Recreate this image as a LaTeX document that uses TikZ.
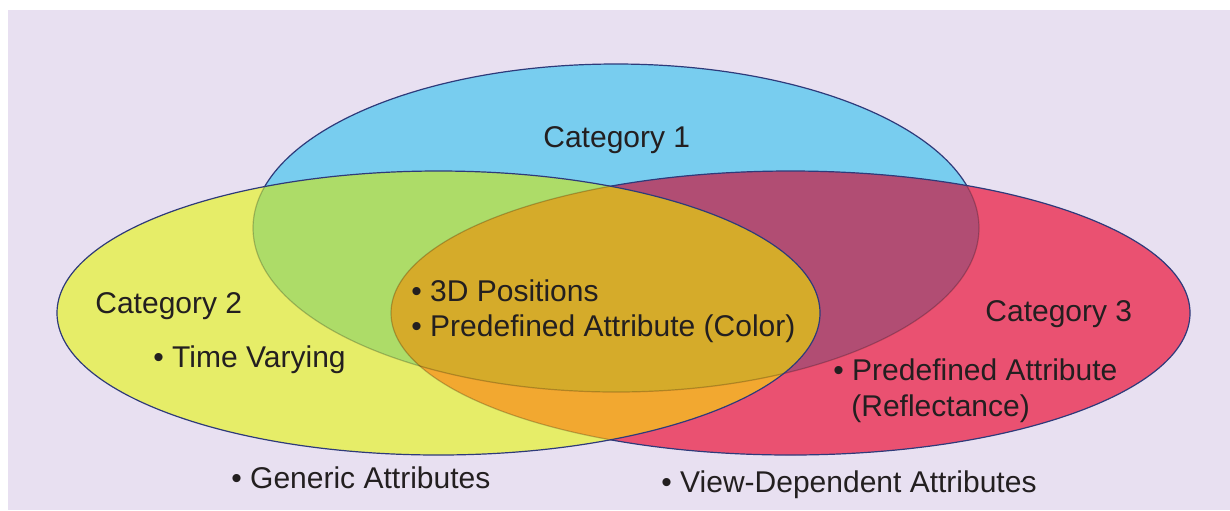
\documentclass[tikz,border=0pt]{standalone}
\usepackage{fontspec}
\setmainfont{Liberation Sans}
\definecolor{bg}{HTML}{E8E0F1}
\definecolor{cblue}{HTML}{78CDEF}
\definecolor{cyel}{HTML}{E6ED68}
\definecolor{cred}{HTML}{EA5171}
\definecolor{cgreen}{HTML}{ADDC68}
\definecolor{cpurp}{HTML}{B14D73}
\definecolor{corange}{HTML}{F2A830}
\definecolor{cgold}{HTML}{D5AB2A}
\definecolor{navy}{HTML}{2E3A7A}
\definecolor{txt}{HTML}{231F20}
\newcommand\blueE{(616,228) ellipse [x radius=181.5pt, y radius=82pt]}
\newcommand\yelE{(438.5,313) ellipse [x radius=190.75pt, y radius=71pt]}
\newcommand\redE{(790.5,313) ellipse [x radius=199.75pt, y radius=71pt]}
\begin{document}
\begin{tikzpicture}[x=0.5pt,y=-0.5pt,
  lbl/.style={inner sep=0pt, anchor=base west, text=txt, font=\fontsize{15}{18}\selectfont},
  edge/.style={draw=navy, line width=0.6pt},
  faint/.style={draw=black, draw opacity=0.22, line width=0.6pt}]
\useasboundingbox (0,0) rectangle (1230,510);
\fill[white] (0,0) rectangle (1230,510);
\fill[bg] (8,10) rectangle (1230,510);
% layer 1: blue
\fill[cblue] \blueE;
\path[edge] \blueE;
% layer 2: red
\fill[cred] \redE;
\begin{scope}
  \clip \blueE;
  \fill[cpurp] \redE;
\end{scope}
\begin{scope}
  \clip \redE;
  \path[faint] \blueE;
\end{scope}
\path[edge] \redE;
% layer 3: yellow
\fill[cyel] \yelE;
\begin{scope}
  \clip \yelE;
  \begin{scope}
    \clip \blueE;
    \fill[cgreen] \yelE;
  \end{scope}
  \begin{scope}
    \clip \redE;
    \fill[corange] \yelE;
    \clip \blueE;
    \fill[cgold] \yelE;
  \end{scope}
  \path[faint] \blueE;
  \path[faint] \redE;
\end{scope}
\path[edge] \yelE;
% labels
\node[lbl] (c1) at (543,147) {Category 1};
\node[lbl] (c2) at (95,313) {Category 2};
\node[lbl] (tv) at (153,367) {\textbullet\ Time Varying};
\node[lbl] (p3d) at (411,301) {\textbullet\ 3D Positions};
\node[lbl] (pcol) at (411,336) {\textbullet\ Predefined Attribute (Color)};
\node[lbl] (c3) at (985,321) {Category 3};
\node[lbl] (pref) at (833,380) {\textbullet\ Predefined Attribute};
\node[lbl] (refl) at (851,416) {(Reflectance)};
\node[lbl] (gen) at (231,488) {\textbullet\ Generic Attributes};
\node[lbl] (view) at (661,492) {\textbullet\ View-Dependent Attributes};
\end{tikzpicture}
\end{document}
